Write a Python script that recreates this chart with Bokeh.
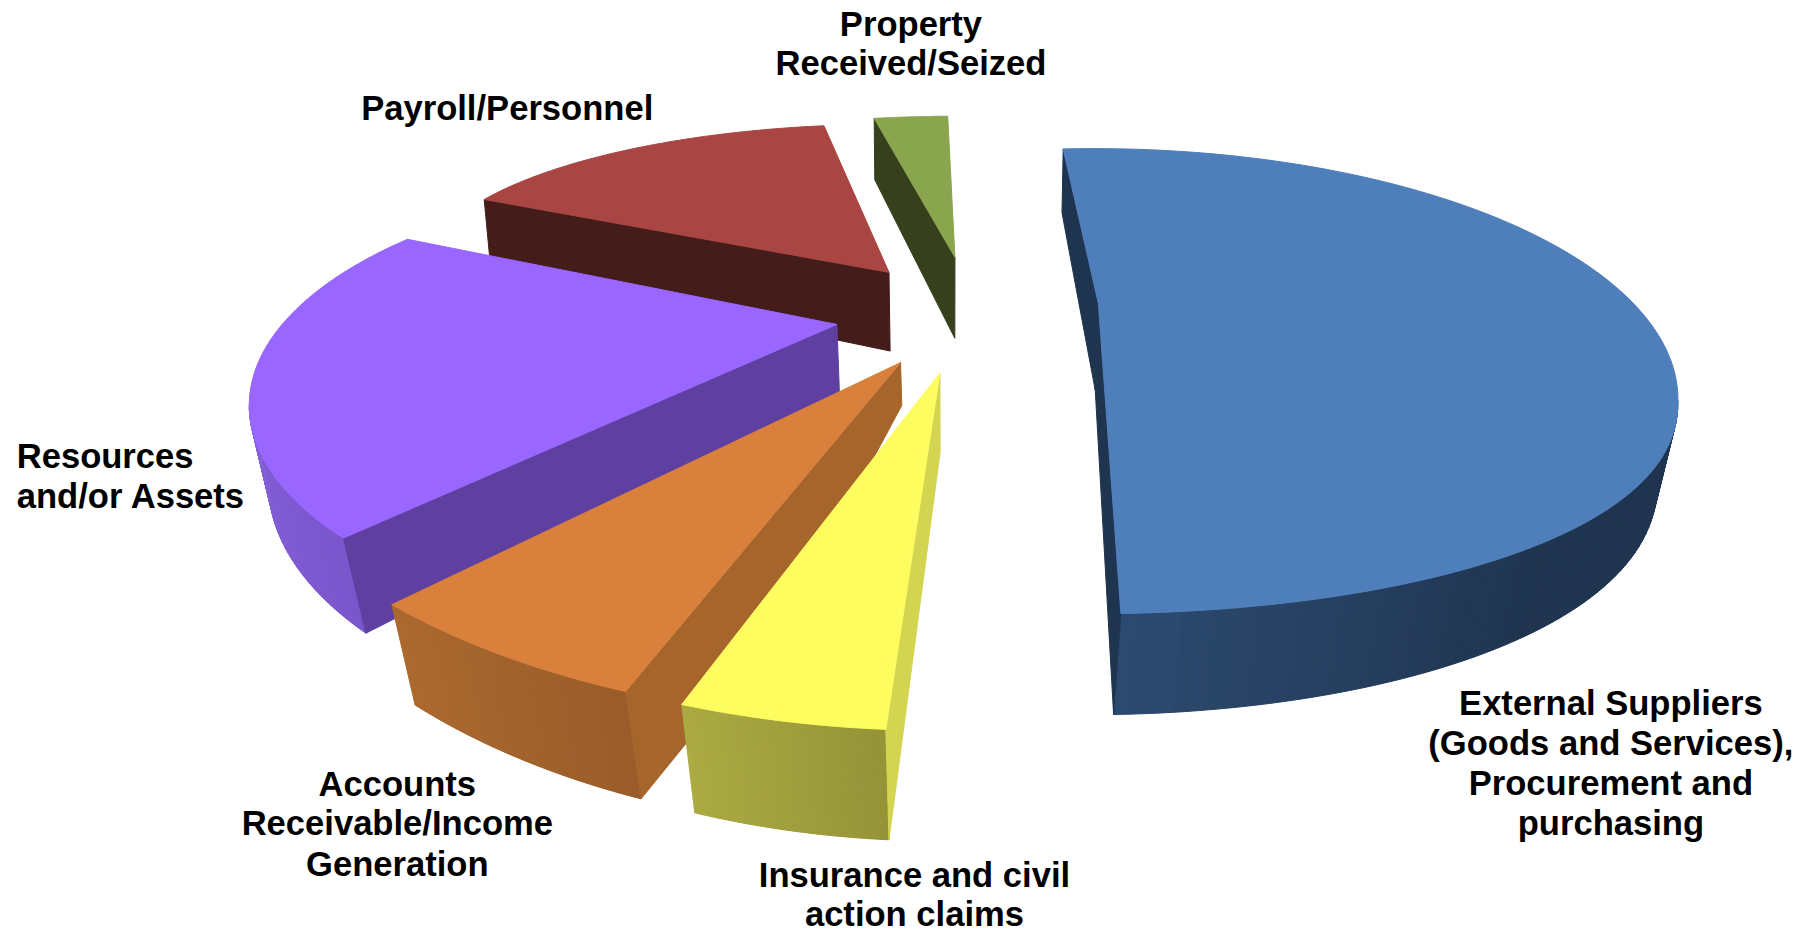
import numpy as np
from bokeh.plotting import figure
from bokeh.models import Range1d, ColumnDataSource
from bokeh.core.properties import value
from bokeh.embed import file_html
from bokeh.resources import INLINE

# ---- chart data -------------------------------------------------------
slice_names = ["Property Received/Seized", "Payroll/Personnel", "External Suppliers",
               "Resources and/or Assets", "Accounts Receivable/Income Generation",
               "Insurance and civil action claims"]
slice_shares = [2.5, 14.4, 49.5, 22.2, 6.6, 4.8]   # percent

label_lines = [
    ["Property", "Received/Seized"],
    ["Payroll/Personnel"],
    ["External Suppliers", "(Goods and Services),", "Procurement and", "purchasing"],
    ["Resources", "and/or Assets"],
    ["Accounts", "Receivable/Income", "Generation"],
    ["Insurance and civil", "action claims"],
]

# ---- layout (in units of the 1568 wide view) ----------------------------
S = 1814 / 1568
SPAN = 3.6 * 1.012
W, H = 1814, 933
layout = [
    dict(start=350.0, apex=(825, 222), c=(825, 222), rx=402, ryt=122, ryb=122, adepth=70,
         top="#89a54e", cut="#36401c", wall=("#36401c", "#36401c")),
    dict(start=299.5, apex=(768, 235), c=(768, 235), rx=402, ryt=128, ryb=128, adepth=68,
         top="#a94644", cut="#441c19", wall=("#441c19", "#441c19")),
    dict(start=-3.0, apex=(949, 262), c=(945, 345), rx=505, ryt=217, ryb=185, pb=0.9, adepth=75,
         top="#4f7fbb", cut="#1f344f", wall=("#2c4a70", "#1f344f"), both=True),
    dict(start=235.0, apex=(723, 280), c=(665, 350), rx=450, ryt=200, ryb=200, adepth=60,
         top="#9966ff", cut="#5f3fa0", wall=("#7a55cc", "#8460d8")),
    dict(start=203.5, apex=(778, 313), c=(778, 313), rx=596, ryt=310, ryb=310, adepth=37,
         bulge=(14, 14), top="#d8803c", cut="#a5652b", wall=("#9a5c2a", "#ab692d")),
    dict(start=184.5, apex=(812, 322), c=(812, 322), rx=596, ryt=309, ryb=309, adepth=68,
         top="#fdfd60", cut="#d3d450", wall=("#959338", "#acab42")),
]
label_pos = [
    (787, [20, 54], "center"),
    (438, [92.5], "center"),
    (1392, [607, 641.5, 676, 711], "center"),
    (14, [394, 428.5], "left"),
    (343, [677, 711, 746], "center"),
    (790, [756, 789.5], "center"),
]


def arc(L, t):
    r = np.radians(t)
    cos = np.cos(r)
    up = cos > 0
    y = np.where(up, -L["ryt"] * np.abs(cos),
                 L["ryb"] * np.abs(cos) ** L.get("pb", 1.0))
    return L["c"][0] + L["rx"] * np.sin(r), L["c"][1] + y


def drop(x, y):
    """Where the lower rim lies under a point of the upper face."""
    return x + (820 - x) * y * 8e-5, y + 45 + 0.08 * y


def mix(a, b, f):
    ca = [int(a[i:i + 2], 16) for i in (1, 3, 5)]
    cb = [int(b[i:i + 2], 16) for i in (1, 3, 5)]
    return "#%02x%02x%02x" % tuple(int(round(u + (v - u) * f)) for u, v in zip(ca, cb))


xs, ys, cols = [], [], []


def add(px, py, c):
    xs.append([float(v) for v in px])
    ys.append([float(v) for v in py])
    cols.append(c)


for share, L in zip(slice_shares, layout):
    t0, t1 = L["start"], L["start"] + share * SPAN
    ax, ay = L["apex"]
    abx, aby = ax + (820 - ax) * ay * 8e-5, ay + L["adepth"]

    # outer rim wall, front-facing part only
    ts = np.linspace(t0, t1, 121)
    vis0, vis1 = max(t0, 90), min(t1, 270)
    for k in range(len(ts) - 1):
        m = (ts[k] + ts[k + 1]) / 2 % 360
        if 90 <= m <= 270:
            x, y = arc(L, np.array([ts[k], ts[k + 1]]))
            bx, by = drop(x, y)
            if L.get("both"):
                f = min(1.0, max(0.0, (m - 130) / 47))
                c = mix(L["wall"][1], L["wall"][0], f)
            else:
                c = mix(L["wall"][0], L["wall"][1], (m - vis0) / (vis1 - vis0))
            add([x[0], x[1], bx[1], bx[0]], [y[0], y[1], by[1], by[0]], c)

    # straight cut face(s)
    x, y = arc(L, np.array([t0, t1]))
    bx, by = drop(x, y)
    if "bulge" in L:
        mx = (bx[0] + abx) / 2 + L["bulge"][0]
        my = (by[0] + aby) / 2 + L["bulge"][1]
        add([ax, x[0], bx[0], mx, abx], [ay, y[0], by[0], my, aby], L["cut"])
    else:
        add([ax, x[0], bx[0], abx], [ay, y[0], by[0], aby], L["cut"])
    if L.get("both"):
        add([ax, x[1], bx[1], abx], [ay, y[1], by[1], aby], L["cut"])

    # upper face
    x, y = arc(L, ts)
    add([ax, *x], [ay, *y], L["top"])

p = figure(width=W, height=H, output_backend="svg", toolbar_location=None,
           x_range=Range1d(0, W / S), y_range=Range1d(H / S, 0),
           min_border=0, outline_line_color=None, background_fill_color="white",
           border_fill_color="white")
p.axis.visible = False
p.grid.visible = False
p.patches("xs", "ys", source=ColumnDataSource(dict(xs=xs, ys=ys, c=cols)),
          fill_color="c", line_color="c", line_width=1)

for lines, (lx, lys, al) in zip(label_lines, label_pos):
    p.text(x=[lx] * len(lines), y=lys, text=lines, text_align=al, text_baseline="middle",
           text_font=value("Liberation Sans"), text_font_style="bold",
           text_font_size="34.6px", text_color="black")

open("out.html", "w").write(file_html(p, INLINE))
